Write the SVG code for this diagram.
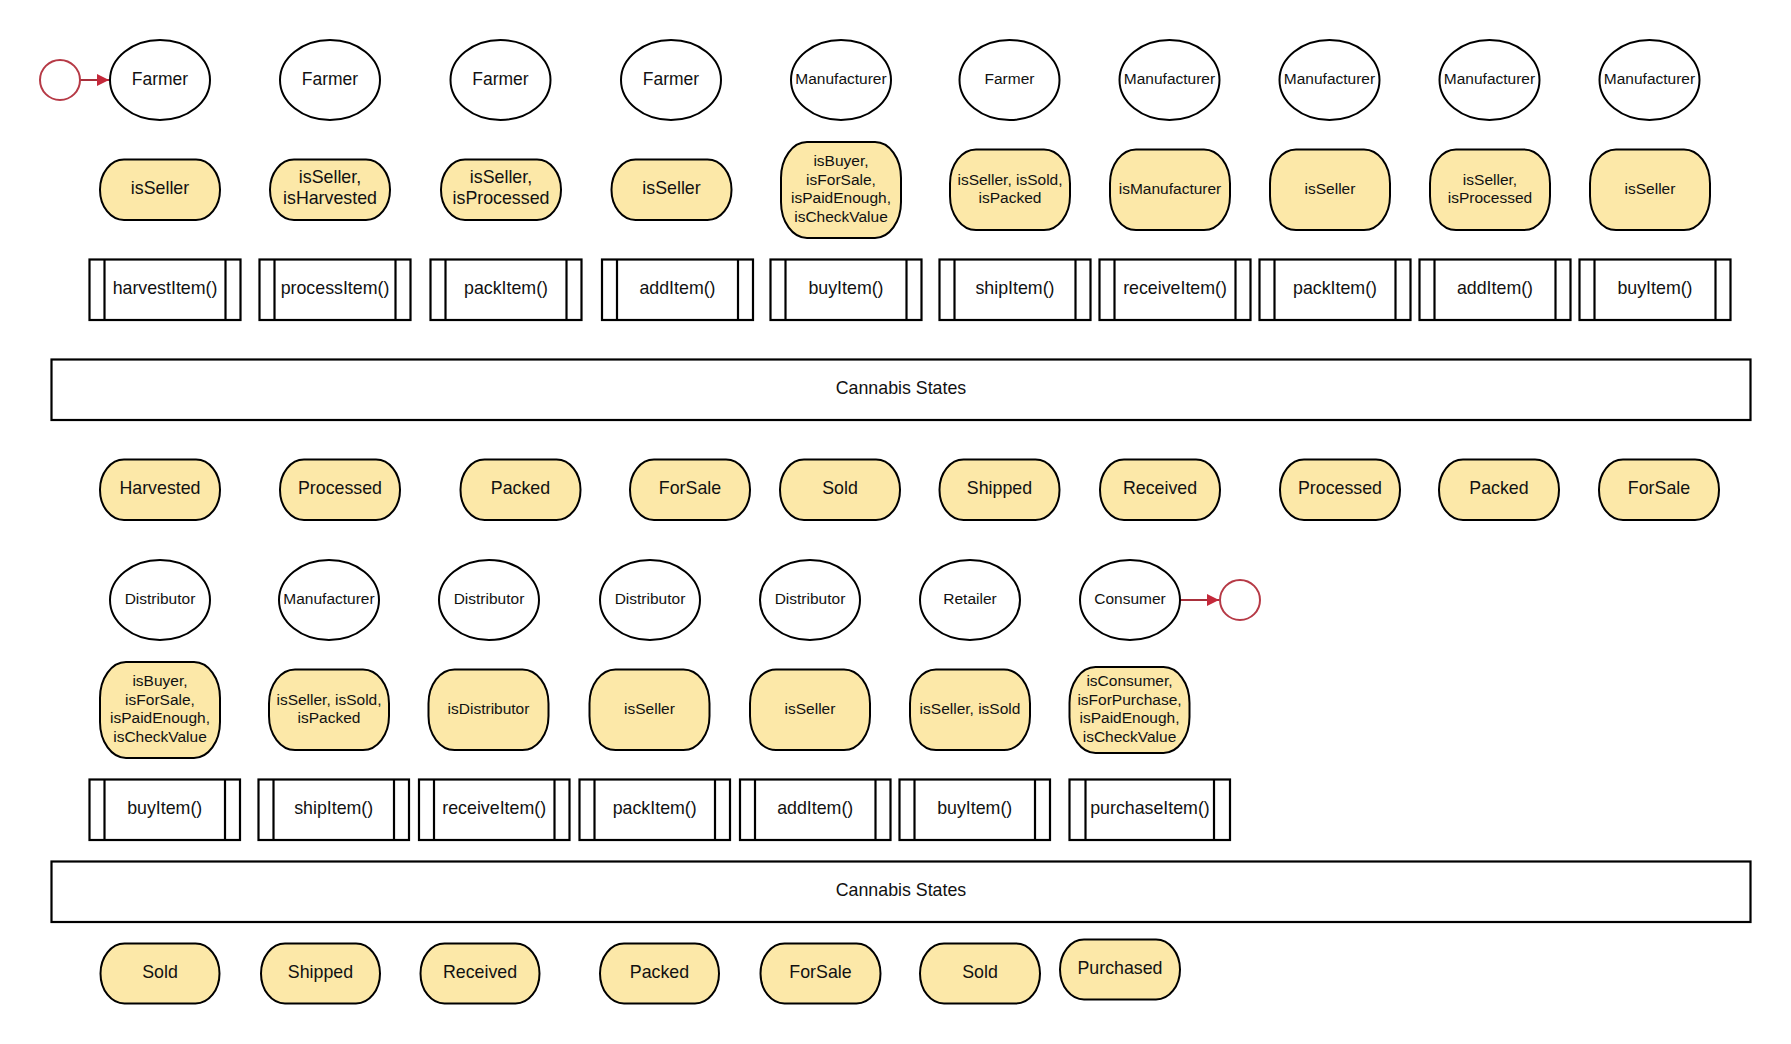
<svg xmlns="http://www.w3.org/2000/svg" width="1791" height="1044" viewBox="0 0 1791 1044">
<defs>
<style>
text{font-family:"Liberation Sans",Arial,sans-serif;fill:#111;text-anchor:middle;dominant-baseline:central}
.actor{fill:#fff;stroke:#000;stroke-width:2}
.cond{fill:#fce8a8;stroke:#000;stroke-width:2}
.fn{fill:#fff;stroke:#000;stroke-width:2.2}
.band{fill:#fff;stroke:#000;stroke-width:2.2}
.term{fill:#fff;stroke:#b63a46;stroke-width:2}
.conn{stroke:#a8303b;stroke-width:2;fill:none}
.l{font-size:17.8px}
.m{font-size:15.5px}
.f{font-size:17.5px}
</style>
<marker id="ah" viewBox="0 0 10 10" refX="10" refY="5" markerWidth="18" markerHeight="12" markerUnits="userSpaceOnUse" orient="auto">
<path d="M0,0 L10,5 L0,10 Z" fill="#c4283a"/>
</marker>
</defs>
<rect width="1791" height="1044" fill="#fff"/>

<g id="connectors">
<line class="conn" x1="80" y1="80" x2="109" y2="80" marker-end="url(#ah)"/>
<line class="conn" x1="1180" y1="600" x2="1219" y2="600" marker-end="url(#ah)"/>
</g>

<g id="start"><circle class="term" cx="60" cy="80" r="20"/></g>
<g id="end"><circle class="term" cx="1240" cy="600" r="20"/></g>

<!-- Row 1 actors -->
<g id="a1"><ellipse class="actor" cx="160" cy="80" rx="50" ry="40"/><text class="f" x="160" y="78.5">Farmer</text></g>
<g id="a2"><ellipse class="actor" cx="330" cy="80" rx="50" ry="40"/><text class="f" x="330" y="78.5">Farmer</text></g>
<g id="a3"><ellipse class="actor" cx="500.5" cy="80" rx="50" ry="40"/><text class="f" x="500.5" y="78.5">Farmer</text></g>
<g id="a4"><ellipse class="actor" cx="671" cy="80" rx="50" ry="40"/><text class="f" x="671" y="78.5">Farmer</text></g>
<g id="a5"><ellipse class="actor" cx="841" cy="80" rx="50" ry="40"/><text class="m" x="841" y="78.5">Manufacturer</text></g>
<g id="a6"><ellipse class="actor" cx="1009.5" cy="80" rx="50" ry="40"/><text class="m" x="1009.5" y="78.5">Farmer</text></g>
<g id="a7"><ellipse class="actor" cx="1169.5" cy="80" rx="50" ry="40"/><text class="m" x="1169.5" y="78.5">Manufacturer</text></g>
<g id="a8"><ellipse class="actor" cx="1329.5" cy="80" rx="50" ry="40"/><text class="m" x="1329.5" y="78.5">Manufacturer</text></g>
<g id="a9"><ellipse class="actor" cx="1489.5" cy="80" rx="50" ry="40"/><text class="m" x="1489.5" y="78.5">Manufacturer</text></g>
<g id="a10"><ellipse class="actor" cx="1649.5" cy="80" rx="50" ry="40"/><text class="m" x="1649.5" y="78.5">Manufacturer</text></g>

<!-- Row 2 conditions -->
<g id="c1"><rect class="cond" x="100" y="159.5" width="120" height="60.5" rx="24" ry="30"/><text class="l" x="160" y="188">isSeller</text></g>
<g id="c2"><rect class="cond" x="270" y="159.5" width="120" height="60.5" rx="24" ry="30"/><text class="l" x="330" y="177.3">isSeller,</text><text class="l" x="330" y="198.3">isHarvested</text></g>
<g id="c3"><rect class="cond" x="441" y="159.5" width="120" height="60.5" rx="24" ry="30"/><text class="l" x="501" y="177.3">isSeller,</text><text class="l" x="501" y="198.3">isProcessed</text></g>
<g id="c4"><rect class="cond" x="611.5" y="159.5" width="120" height="60.5" rx="24" ry="30"/><text class="l" x="671.5" y="188">isSeller</text></g>
<g id="c5"><rect class="cond" x="781" y="142" width="120" height="96" rx="26" ry="36"/><text class="m" x="841" y="160">isBuyer,</text><text class="m" x="841" y="179">isForSale,</text><text class="m" x="841" y="197.7">isPaidEnough,</text><text class="m" x="841" y="216">isCheckValue</text></g>
<g id="c6"><rect class="cond" x="950" y="149.5" width="120" height="80.5" rx="26" ry="34"/><text class="m" x="1010" y="179">isSeller, isSold,</text><text class="m" x="1010" y="197.3">isPacked</text></g>
<g id="c7"><rect class="cond" x="1110" y="149.5" width="120" height="80.5" rx="26" ry="34"/><text class="m" x="1170" y="188">isManufacturer</text></g>
<g id="c8"><rect class="cond" x="1270" y="149.5" width="120" height="80.5" rx="26" ry="34"/><text class="m" x="1330" y="188">isSeller</text></g>
<g id="c9"><rect class="cond" x="1430" y="149.5" width="120" height="80.5" rx="26" ry="34"/><text class="m" x="1490" y="179">isSeller,</text><text class="m" x="1490" y="197.3">isProcessed</text></g>
<g id="c10"><rect class="cond" x="1590" y="149.5" width="120" height="80.5" rx="26" ry="34"/><text class="m" x="1650" y="188">isSeller</text></g>

<!-- Row 3 functions -->
<g id="f1"><rect class="fn" x="89.5" y="259.5" width="151" height="60.5"/><line class="fn" x1="104.5" y1="259.5" x2="104.5" y2="320"/><line class="fn" x1="225.5" y1="259.5" x2="225.5" y2="320"/><text class="l" x="165" y="288">harvestItem()</text></g>
<g id="f2"><rect class="fn" x="259.5" y="259.5" width="151" height="60.5"/><line class="fn" x1="274.5" y1="259.5" x2="274.5" y2="320"/><line class="fn" x1="395.5" y1="259.5" x2="395.5" y2="320"/><text class="l" x="335" y="288">processItem()</text></g>
<g id="f3"><rect class="fn" x="430.5" y="259.5" width="151" height="60.5"/><line class="fn" x1="445.5" y1="259.5" x2="445.5" y2="320"/><line class="fn" x1="566.5" y1="259.5" x2="566.5" y2="320"/><text class="l" x="506" y="288">packItem()</text></g>
<g id="f4"><rect class="fn" x="602" y="259.5" width="151" height="60.5"/><line class="fn" x1="617" y1="259.5" x2="617" y2="320"/><line class="fn" x1="738" y1="259.5" x2="738" y2="320"/><text class="l" x="677.5" y="288">addItem()</text></g>
<g id="f5"><rect class="fn" x="770.5" y="259.5" width="151" height="60.5"/><line class="fn" x1="785.5" y1="259.5" x2="785.5" y2="320"/><line class="fn" x1="906.5" y1="259.5" x2="906.5" y2="320"/><text class="l" x="846" y="288">buyItem()</text></g>
<g id="f6"><rect class="fn" x="939.5" y="259.5" width="151" height="60.5"/><line class="fn" x1="954.5" y1="259.5" x2="954.5" y2="320"/><line class="fn" x1="1075.5" y1="259.5" x2="1075.5" y2="320"/><text class="l" x="1015" y="288">shipItem()</text></g>
<g id="f7"><rect class="fn" x="1099.5" y="259.5" width="151" height="60.5"/><line class="fn" x1="1114.5" y1="259.5" x2="1114.5" y2="320"/><line class="fn" x1="1235.5" y1="259.5" x2="1235.5" y2="320"/><text class="l" x="1175" y="288">receiveItem()</text></g>
<g id="f8"><rect class="fn" x="1259.5" y="259.5" width="151" height="60.5"/><line class="fn" x1="1274.5" y1="259.5" x2="1274.5" y2="320"/><line class="fn" x1="1395.5" y1="259.5" x2="1395.5" y2="320"/><text class="l" x="1335" y="288">packItem()</text></g>
<g id="f9"><rect class="fn" x="1419.5" y="259.5" width="151" height="60.5"/><line class="fn" x1="1434.5" y1="259.5" x2="1434.5" y2="320"/><line class="fn" x1="1555.5" y1="259.5" x2="1555.5" y2="320"/><text class="l" x="1495" y="288">addItem()</text></g>
<g id="f10"><rect class="fn" x="1579.5" y="259.5" width="151" height="60.5"/><line class="fn" x1="1594.5" y1="259.5" x2="1594.5" y2="320"/><line class="fn" x1="1715.5" y1="259.5" x2="1715.5" y2="320"/><text class="l" x="1655" y="288">buyItem()</text></g>

<!-- Band 1 -->
<g id="band1"><rect class="band" x="51.5" y="359.5" width="1699" height="60.5"/><text class="l" x="901" y="388">Cannabis States</text></g>

<!-- Row 4 states -->
<g id="s1"><rect class="cond" x="100" y="459.5" width="120" height="60.5" rx="24" ry="30"/><text class="l" x="160" y="488">Harvested</text></g>
<g id="s2"><rect class="cond" x="280" y="459.5" width="120" height="60.5" rx="24" ry="30"/><text class="l" x="340" y="488">Processed</text></g>
<g id="s3"><rect class="cond" x="460.5" y="459.5" width="120" height="60.5" rx="24" ry="30"/><text class="l" x="520.5" y="488">Packed</text></g>
<g id="s4"><rect class="cond" x="630" y="459.5" width="120" height="60.5" rx="24" ry="30"/><text class="l" x="690" y="488">ForSale</text></g>
<g id="s5"><rect class="cond" x="780" y="459.5" width="120" height="60.5" rx="24" ry="30"/><text class="l" x="840" y="488">Sold</text></g>
<g id="s6"><rect class="cond" x="939.5" y="459.5" width="120" height="60.5" rx="24" ry="30"/><text class="l" x="999.5" y="488">Shipped</text></g>
<g id="s7"><rect class="cond" x="1100" y="459.5" width="120" height="60.5" rx="24" ry="30"/><text class="l" x="1160" y="488">Received</text></g>
<g id="s8"><rect class="cond" x="1280" y="459.5" width="120" height="60.5" rx="24" ry="30"/><text class="l" x="1340" y="488">Processed</text></g>
<g id="s9"><rect class="cond" x="1439" y="459.5" width="120" height="60.5" rx="24" ry="30"/><text class="l" x="1499" y="488">Packed</text></g>
<g id="s10"><rect class="cond" x="1599" y="459.5" width="120" height="60.5" rx="24" ry="30"/><text class="l" x="1659" y="488">ForSale</text></g>

<!-- Row 5 actors -->
<g id="b1"><ellipse class="actor" cx="160" cy="600" rx="50" ry="40"/><text class="m" x="160" y="598.5">Distributor</text></g>
<g id="b2"><ellipse class="actor" cx="329" cy="600" rx="50" ry="40"/><text class="m" x="329" y="598.5">Manufacturer</text></g>
<g id="b3"><ellipse class="actor" cx="489" cy="600" rx="50" ry="40"/><text class="m" x="489" y="598.5">Distributor</text></g>
<g id="b4"><ellipse class="actor" cx="650" cy="600" rx="50" ry="40"/><text class="m" x="650" y="598.5">Distributor</text></g>
<g id="b5"><ellipse class="actor" cx="810" cy="600" rx="50" ry="40"/><text class="m" x="810" y="598.5">Distributor</text></g>
<g id="b6"><ellipse class="actor" cx="970" cy="600" rx="50" ry="40"/><text class="m" x="970" y="598.5">Retailer</text></g>
<g id="b7"><ellipse class="actor" cx="1130" cy="600" rx="50" ry="40"/><text class="m" x="1130" y="598.5">Consumer</text></g>

<!-- Row 6 conditions -->
<g id="d1"><rect class="cond" x="100" y="662" width="120" height="96" rx="26" ry="36"/><text class="m" x="160" y="680">isBuyer,</text><text class="m" x="160" y="699">isForSale,</text><text class="m" x="160" y="717.7">isPaidEnough,</text><text class="m" x="160" y="736">isCheckValue</text></g>
<g id="d2"><rect class="cond" x="269" y="669.5" width="120" height="80.5" rx="26" ry="34"/><text class="m" x="329" y="699">isSeller, isSold,</text><text class="m" x="329" y="717.3">isPacked</text></g>
<g id="d3"><rect class="cond" x="428.5" y="669.5" width="120" height="80.5" rx="26" ry="34"/><text class="m" x="488.5" y="708">isDistributor</text></g>
<g id="d4"><rect class="cond" x="589.5" y="669.5" width="120" height="80.5" rx="26" ry="34"/><text class="m" x="649.5" y="708">isSeller</text></g>
<g id="d5"><rect class="cond" x="750" y="669.5" width="120" height="80.5" rx="26" ry="34"/><text class="m" x="810" y="708">isSeller</text></g>
<g id="d6"><rect class="cond" x="910" y="669.5" width="120" height="80.5" rx="26" ry="34"/><text class="m" x="970" y="708">isSeller, isSold</text></g>
<g id="d7"><rect class="cond" x="1069.5" y="667" width="120" height="86" rx="26" ry="36"/><text class="m" x="1129.5" y="680">isConsumer,</text><text class="m" x="1129.5" y="699">isForPurchase,</text><text class="m" x="1129.5" y="717.7">isPaidEnough,</text><text class="m" x="1129.5" y="736">isCheckValue</text></g>

<!-- Row 7 functions -->
<g id="g1"><rect class="fn" x="89.5" y="779.5" width="150.5" height="60.5"/><line class="fn" x1="104.5" y1="779.5" x2="104.5" y2="840"/><line class="fn" x1="225" y1="779.5" x2="225" y2="840"/><text class="l" x="164.7" y="808">buyItem()</text></g>
<g id="g2"><rect class="fn" x="258.5" y="779.5" width="150.5" height="60.5"/><line class="fn" x1="273.5" y1="779.5" x2="273.5" y2="840"/><line class="fn" x1="394" y1="779.5" x2="394" y2="840"/><text class="l" x="333.7" y="808">shipItem()</text></g>
<g id="g3"><rect class="fn" x="419" y="779.5" width="150.5" height="60.5"/><line class="fn" x1="434" y1="779.5" x2="434" y2="840"/><line class="fn" x1="554.5" y1="779.5" x2="554.5" y2="840"/><text class="l" x="494.2" y="808">receiveItem()</text></g>
<g id="g4"><rect class="fn" x="579.5" y="779.5" width="150.5" height="60.5"/><line class="fn" x1="594.5" y1="779.5" x2="594.5" y2="840"/><line class="fn" x1="715" y1="779.5" x2="715" y2="840"/><text class="l" x="654.7" y="808">packItem()</text></g>
<g id="g5"><rect class="fn" x="740" y="779.5" width="150.5" height="60.5"/><line class="fn" x1="755" y1="779.5" x2="755" y2="840"/><line class="fn" x1="875.5" y1="779.5" x2="875.5" y2="840"/><text class="l" x="815.2" y="808">addItem()</text></g>
<g id="g6"><rect class="fn" x="899.5" y="779.5" width="150.5" height="60.5"/><line class="fn" x1="914.5" y1="779.5" x2="914.5" y2="840"/><line class="fn" x1="1035" y1="779.5" x2="1035" y2="840"/><text class="l" x="974.7" y="808">buyItem()</text></g>
<g id="g7"><rect class="fn" x="1069.5" y="779.5" width="160.5" height="60.5"/><line class="fn" x1="1085.5" y1="779.5" x2="1085.5" y2="840"/><line class="fn" x1="1214" y1="779.5" x2="1214" y2="840"/><text class="l" x="1150" y="808">purchaseItem()</text></g>

<!-- Band 2 -->
<g id="band2"><rect class="band" x="51.5" y="861.5" width="1699" height="60.5"/><text class="l" x="901" y="890">Cannabis States</text></g>

<!-- Row 9 states -->
<g id="t1"><rect class="cond" x="100.5" y="943.5" width="119" height="60" rx="24" ry="30"/><text class="l" x="160" y="972">Sold</text></g>
<g id="t2"><rect class="cond" x="261" y="943.5" width="119" height="60" rx="24" ry="30"/><text class="l" x="320.5" y="972">Shipped</text></g>
<g id="t3"><rect class="cond" x="420.5" y="943.5" width="119" height="60" rx="24" ry="30"/><text class="l" x="480" y="972">Received</text></g>
<g id="t4"><rect class="cond" x="600" y="943.5" width="119" height="60" rx="24" ry="30"/><text class="l" x="659.5" y="972">Packed</text></g>
<g id="t5"><rect class="cond" x="760.5" y="943.5" width="120" height="60" rx="24" ry="30"/><text class="l" x="820.5" y="972">ForSale</text></g>
<g id="t6"><rect class="cond" x="920" y="943.5" width="120" height="60" rx="24" ry="30"/><text class="l" x="980" y="972">Sold</text></g>
<g id="t7"><rect class="cond" x="1060" y="939.5" width="120" height="60" rx="24" ry="30"/><text class="l" x="1120" y="968">Purchased</text></g>
</svg>
